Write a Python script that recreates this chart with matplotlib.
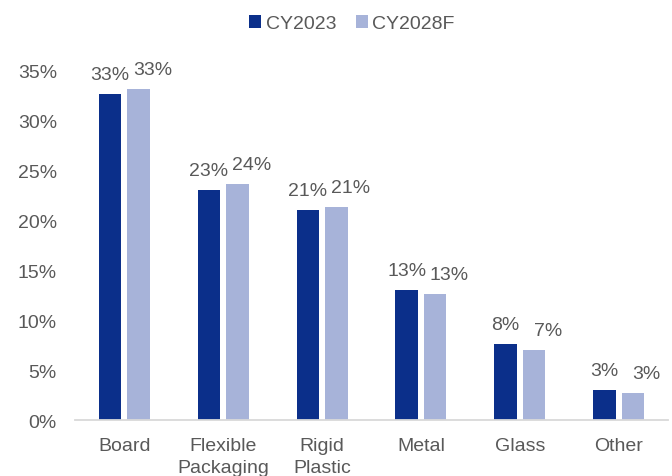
import matplotlib
matplotlib.use("Agg")
import matplotlib.pyplot as plt
import numpy as np
from matplotlib.patches import Patch

categories = ["Board", "Flexible\nPackaging", "Rigid\nPlastic", "Metal", "Glass", "Other"]
series_names = ["CY2023", "CY2028F"]
cy2023 = [32.6, 23.0, 21.0, 13.0, 7.6, 3.0]
cy2028f = [33.1, 23.6, 21.3, 12.6, 7.0, 2.7]
y_ticks = [0, 5, 10, 15, 20, 25, 30, 35]

dark_blue = "#0b2f8a"
light_blue = "#a7b3d9"
text_gray = "#595959"

plt.rcParams["font.family"] = ["Liberation Sans", "DejaVu Sans"]

fig = plt.figure(figsize=(6.72, 4.77), dpi=100)
ax = fig.add_axes([0.1116, 0.1174, 0.994 - 0.1116, 0.851 - 0.1174])

x = np.arange(len(categories))
width = 0.228
offset = 0.144

bars1 = ax.bar(x - offset, cy2023, width, color=dark_blue, label=series_names[0])
bars2 = ax.bar(x + offset, cy2028f, width, color=light_blue, label=series_names[1])

# value labels; the second series' labels are nudged right so pairs don't collide
for bars, vals, dx in ((bars1, cy2023, 0), (bars2, cy2028f, 10)):
    for b, v in zip(bars, vals):
        ax.annotate(f"{round(v):d}%", xy=(b.get_x() + b.get_width() / 2, v),
                    xytext=(dx, 8), textcoords="offset points",
                    ha="center", va="bottom", fontsize=14, color=text_gray)

ax.set_xlim(-0.5, len(categories) - 0.5)
ax.set_ylim(0, 35)
ax.set_yticks(y_ticks)
ax.set_yticklabels([f"{t}%" for t in y_ticks])
ax.set_xticks(x)
ax.set_xticklabels(categories, linespacing=1.4)

ax.tick_params(axis="y", length=0, pad=13, labelsize=14, labelcolor=text_gray)
ax.tick_params(axis="x", length=0, pad=12, labelsize=14, labelcolor=text_gray)

for side in ("left", "right", "top"):
    ax.spines[side].set_visible(False)
ax.spines["bottom"].set_color("#d9d9d9")
ax.spines["bottom"].set_linewidth(1.3)

handles = [Patch(facecolor=dark_blue), Patch(facecolor=light_blue)]
fig.legend(handles, series_names, loc="center", bbox_to_anchor=(0.524, 0.948),
           ncol=2, frameon=False, fontsize=14, labelcolor=text_gray,
           handlelength=0.6, handleheight=0.6, handletextpad=0.25,
           columnspacing=1.0, borderaxespad=0, borderpad=0)

fig.savefig("out.png", dpi=100)
